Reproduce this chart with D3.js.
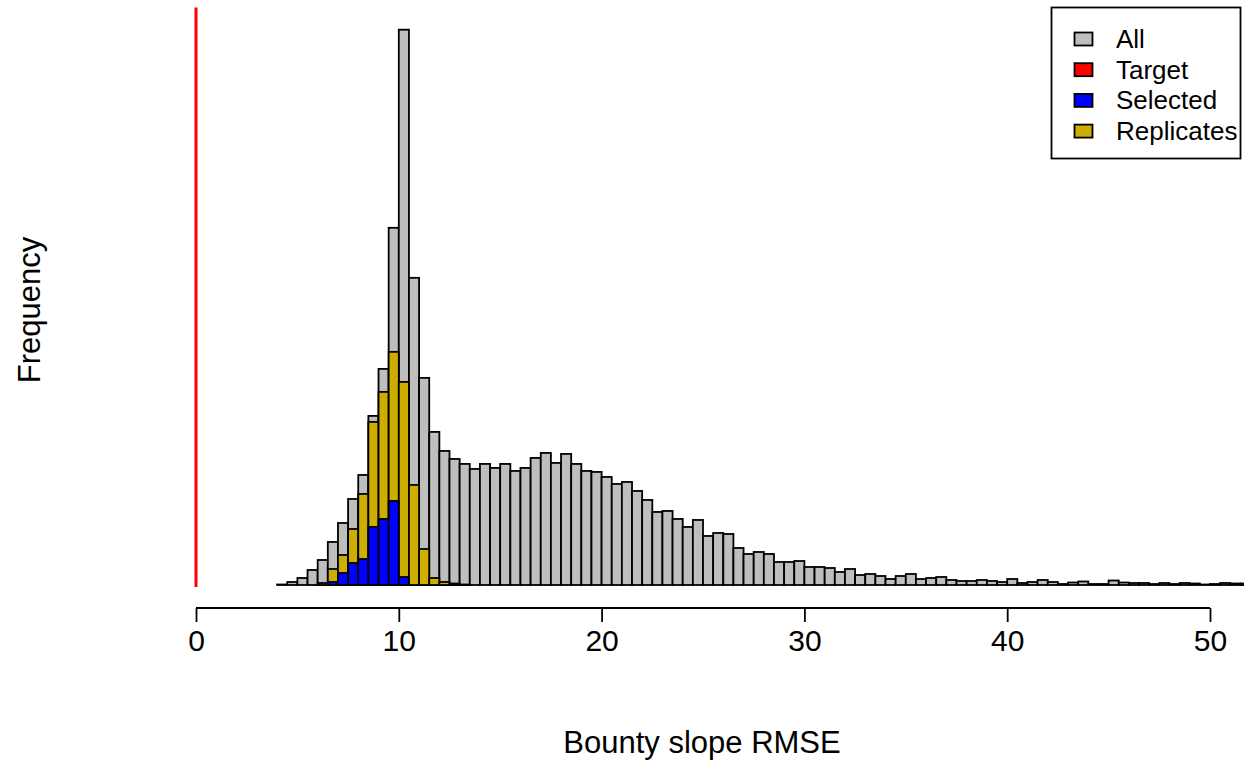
<!DOCTYPE html>
<html><head><meta charset="utf-8">
<script src="https://cdn.jsdelivr.net/npm/d3@7"></script>
<style>body{margin:0;background:#fff}svg{display:block}text{font-family:"Liberation Sans",Arial,sans-serif}</style>
</head><body>
<svg id="c" width="1244" height="762"></svg>
<script>
// Histogram bins: width 0.5, starting at binStart for each series
const binWidth = 0.5;
const allStart = 4.0;
const allCounts = [2,12,28,60,100,172,248,344,440,676,864,1428,2220,1228,828,612,536,504,484,464,
  484,468,484,456,468,508,528,488,524,484,456,452,432,404,412,376,340,292,296,264,
  232,260,196,208,204,148,124,132,124,92,92,96,72,72,68,52,64,40,44,36,
  24,36,44,24,28,32,20,16,16,20,16,12,24,8,12,20,12,4,10,14,
  4,4,18,10,8,8,4,8,4,8,6,2,4,8,6,6];
const replicatesStart = 6.0;
const replicatesCounts = [8,64,120,224,364,652,772,932,812,400,144,28,12,6,2];
const selectedStart = 6.5;
const selectedCounts = [12,48,88,104,232,264,336,32];
const targetValue = 0;
const xTicks = [0,10,20,30,40,50];
const legendLabels = ["All","Target","Selected","Replicates"];
const legendColors = ["#BEBEBE","#FF0000","#0000FF","#CDAD00"];

const svg = d3.select("#c");
const x = d3.scaleLinear().domain([0,50]).range([196,1210]);
const ymax = d3.max(allCounts);
const y = d3.scaleLinear().domain([0,ymax]).range([585,29.7]);

function bins(start, counts){ return counts.map((c,i)=>({x0:start+i*binWidth, x1:start+(i+1)*binWidth, c})); }

function drawHist(data, fill){
  svg.append("g").selectAll("rect").data(data).join("rect")
    .attr("x", d=>x(d.x0)).attr("width", d=>x(d.x1)-x(d.x0))
    .attr("y", d=>y(d.c)).attr("height", d=>y(0)-y(d.c))
    .attr("fill", fill).attr("stroke","#000").attr("stroke-width",1.8);
}
drawHist(bins(allStart, allCounts), "#BEBEBE");
drawHist(bins(replicatesStart, replicatesCounts), "#CDAD00");
drawHist(bins(selectedStart, selectedCounts), "#0000FF");

// target line
svg.append("line").attr("x1",x(targetValue)).attr("x2",x(targetValue))
  .attr("y1",y(ymax*1.04)).attr("y2",y(0)+2)
  .attr("stroke","#FF0000").attr("stroke-width",3);

// x axis
const axis = d3.axisBottom(x).tickValues(xTicks).tickSize(14).tickPadding(8).tickFormat(d3.format("d"));
const ag = svg.append("g").attr("transform","translate(0,608)").call(axis);
ag.select(".domain").attr("stroke","#000").attr("stroke-width",1.8).attr("d", `M${x(0)},0H${x(50)}`);
ag.selectAll(".tick line").attr("stroke","#000").attr("stroke-width",1.8);
ag.selectAll(".tick text").attr("font-size",30).attr("fill","#000").attr("font-family","Liberation Sans, Arial, sans-serif");

svg.append("text").attr("x",702).attr("y",753).attr("text-anchor","middle").attr("font-size",31).text("Bounty slope RMSE");
svg.append("text").attr("transform","translate(40,310) rotate(-90)").attr("text-anchor","middle").attr("font-size",31).text("Frequency");

// legend
const lg = svg.append("g");
lg.append("rect").attr("x",1051.5).attr("y",7.5).attr("width",189).attr("height",151).attr("fill","#fff").attr("stroke","#000").attr("stroke-width",1.8);
legendLabels.forEach((l,i)=>{
  const cy = 39 + i*30.7;
  lg.append("rect").attr("x",1074.5).attr("y",cy-6.5).attr("width",18).attr("height",13)
    .attr("fill",legendColors[i]).attr("stroke","#000").attr("stroke-width",1.8);
  lg.append("text").attr("x",1116).attr("y",cy+9).attr("font-size",26).text(l);
});
</script>
</body></html>
